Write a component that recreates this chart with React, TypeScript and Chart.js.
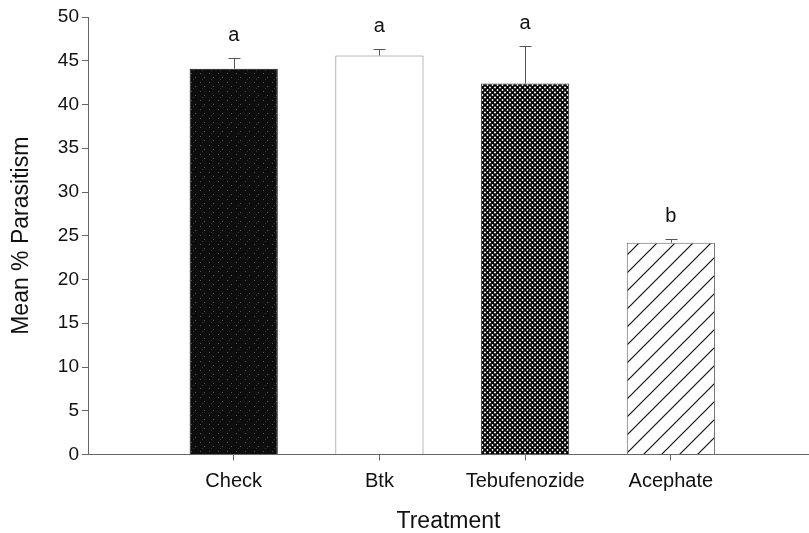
import React, { useEffect, useRef } from 'react';
import { Chart, registerables } from 'chart.js';

Chart.register(...registerables);

const categories = ['Check', 'Btk', 'Tebufenozide', 'Acephate'];
const meanParasitism = [44.1, 45.6, 42.4, 24.2];
const standardErrors = [1.2, 0.8, 4.3, 0.45];
const significanceLetters = ['a', 'a', 'a', 'b'];
const yMin = 0;
const yMax = 50;
const yStep = 5;

const FONT = '"Liberation Sans", Arial, Helvetica, sans-serif';

function makeTile(size: number, draw: (c: CanvasRenderingContext2D, s: number) => void) {
  const cv = document.createElement('canvas');
  cv.width = size;
  cv.height = size;
  const c = cv.getContext('2d') as CanvasRenderingContext2D;
  draw(c, size);
  return c.createPattern(cv, 'repeat') as CanvasPattern;
}

function speckle() {
  return makeTile(9, (c, s) => {
    c.fillStyle = '#0d0d0d';
    c.fillRect(0, 0, s, s);
    c.fillStyle = '#555';
    c.fillRect(2, 1, 1, 1);
    c.fillRect(6, 5, 1, 1);
    c.fillStyle = '#333';
    c.fillRect(4, 7, 1, 1);
  });
}

function crosshatch() {
  return makeTile(5, (c, s) => {
    c.fillStyle = '#ffffff';
    c.fillRect(0, 0, s, s);
    c.strokeStyle = '#000';
    c.lineWidth = 1.9;
    c.beginPath();
    c.moveTo(-1, -1); c.lineTo(s + 1, s + 1);
    c.moveTo(-1, s + 1); c.lineTo(s + 1, -1);
    c.stroke();
  });
}

function diagonal() {
  return makeTile(18, (c, s) => {
    c.fillStyle = '#ffffff';
    c.fillRect(0, 0, s, s);
    c.strokeStyle = '#111';
    c.lineWidth = 1.2;
    c.beginPath();
    c.moveTo(0, s); c.lineTo(s, 0);
    c.moveTo(-s / 2, s / 2); c.lineTo(s / 2, -s / 2);
    c.moveTo(s / 2, s + s / 2); c.lineTo(s + s / 2, s / 2);
    c.stroke();
  });
}

const errorBarPlugin = {
  id: 'errorBarsLetters',
  afterDatasetsDraw(chart: any) {
    const ctx = chart.ctx as CanvasRenderingContext2D;
    const meta = chart.getDatasetMeta(0);
    const yScale = chart.scales.y;
    ctx.save();
    meta.data.forEach((bar: any, i: number) => {
      const x = Math.round(bar.x) + 0.5;
      const top = yScale.getPixelForValue(meanParasitism[i]);
      const hi = Math.round(yScale.getPixelForValue(meanParasitism[i] + standardErrors[i])) + 0.5;
      ctx.strokeStyle = '#555';
      ctx.lineWidth = 1;
      ctx.beginPath();
      ctx.moveTo(x, top);
      ctx.lineTo(x, hi);
      ctx.moveTo(x - 6, hi);
      ctx.lineTo(x + 6, hi);
      ctx.stroke();
      ctx.fillStyle = '#111';
      ctx.font = `20px ${FONT}`;
      ctx.textAlign = 'center';
      ctx.textBaseline = 'alphabetic';
      ctx.fillText(significanceLetters[i], bar.x, hi - 18);
    });
    ctx.restore();
  },
};

export default function App() {
  const canvasRef = useRef<HTMLCanvasElement | null>(null);

  useEffect(() => {
    const canvas = canvasRef.current;
    if (!canvas) return;
    const fills = [speckle(), '#ffffff', crosshatch(), diagonal()];
    const borders = ['#111', '#777', '#333', '#666'];
    const chart = new Chart(canvas, {
      type: 'bar',
      data: {
        datasets: [
          {
            data: categories.map((_, i) => ({ x: i + 1, y: meanParasitism[i] })),
            backgroundColor: fills as any,
            borderColor: borders,
            borderWidth: 1,
            barPercentage: 0.605,
            categoryPercentage: 1,
          },
        ],
      },
      plugins: [errorBarPlugin],
      options: {
        animation: false,
        responsive: true,
        maintainAspectRatio: false,
        layout: { padding: { top: 17, left: 0, right: 0, bottom: 0 } },
        plugins: { legend: { display: false }, tooltip: { enabled: false } },
        scales: {
          x: {
            type: 'linear',
            min: 0,
            max: 4.948,
            offset: false,
            grid: { display: true, drawOnChartArea: false, drawTicks: true, tickLength: 6, color: '#666', offset: false },
            border: { display: true, color: '#666', width: 1 },
            afterBuildTicks: (scale: any) => {
              scale.ticks = categories.map((_, i) => ({ value: i + 1 }));
            },
            afterFit: (scale: any) => {
              scale.height = 533 - 454.5;
            },
            ticks: {
              autoSkip: false,
              maxRotation: 0,
              padding: 9,
              color: '#111',
              font: { family: FONT, size: 20 },
              callback: (value: any) => categories[Number(value) - 1] ?? '',
            },
            title: {
              display: true,
              text: 'Treatment',
              color: '#111',
              font: { family: FONT, size: 23 },
              padding: { top: 0, bottom: -2 },
            },
          },
          y: {
            type: 'linear',
            min: yMin,
            max: yMax,
            grid: { display: true, drawOnChartArea: false, drawTicks: true, tickLength: 6, color: '#666' },
            border: { display: true, color: '#666', width: 1 },
            afterFit: (scale: any) => {
              scale.width = 88;
            },
            ticks: {
              stepSize: yStep,
              padding: 3,
              color: '#111',
              font: { family: FONT, size: 19 },
            },
            title: {
              display: true,
              text: 'Mean % Parasitism',
              color: '#111',
              font: { family: FONT, size: 23 },
              padding: { top: 8, bottom: 0 },
            },
          },
        },
      },
    } as any);
    return () => chart.destroy();
  }, []);

  return (
    <div style={{ position: 'absolute', left: 0, top: 0, width: 809, height: 533, background: '#fff' }}>
      <canvas ref={canvasRef} />
    </div>
  );
}
